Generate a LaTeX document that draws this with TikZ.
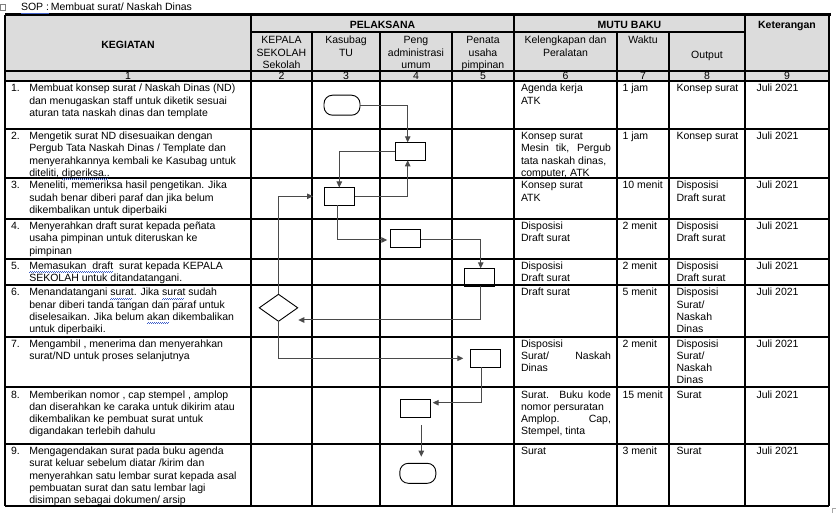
\documentclass[tikz,border=0pt]{standalone}
\usepackage{fontspec}
\setmainfont{Liberation Sans}
\usetikzlibrary{shapes.geometric,arrows.meta}
\definecolor{hdrgray}{HTML}{DCDCDC}
\definecolor{conngray}{HTML}{4A4A4A}
\definecolor{wavyblue}{HTML}{4060C8}
\newcommand\sopfont{\fontsize{10.5}{12.3}\selectfont}
\newsavebox\wvbox
\newcommand\wavyul[1]{\leavevmode\sbox\wvbox{#1}\rlap{\color{wavyblue}\leaders\hbox{\rule[-3.4pt]{1pt}{0.7pt}\rule[-2.6pt]{1pt}{0.7pt}}\hskip\wd\wvbox}\usebox\wvbox}
\newcommand\cellpar[2]{\parbox[t]{#1}{\raggedright #2}}
\newcommand\cellctr[2]{\parbox[t]{#1}{\centering #2}}
\tikzset{
  tl/.style={anchor=base west, inner sep=0pt, outer sep=0pt, font=\sopfont},
  tc/.style={anchor=base, inner sep=0pt, outer sep=0pt, font=\sopfont},
  hb/.style={anchor=base, inner sep=0pt, outer sep=0pt, font=\sopfont\bfseries},
  grid/.style={line width=1.1pt, black},
  flowbox/.style={draw, line width=0.9pt, minimum width=30.4pt, minimum height=18pt, inner sep=0pt, outer sep=0pt},
  term/.style={draw, line width=0.9pt, rounded corners=8.5pt, minimum width=36pt, minimum height=20pt, inner sep=0pt, outer sep=0pt},
  dec/.style={draw, diamond, line width=0.9pt, minimum width=38.4pt, minimum height=27pt, shape aspect=1.42, inner sep=0pt, outer sep=0pt},
  conn/.style={draw=conngray, line width=1pt, -{Triangle[length=6pt,width=5.5pt]}}
}
\begin{document}
\begin{tikzpicture}[x=1pt,y=-1pt]
\useasboundingbox (0,0) rectangle (836,513);
\fill[white] (0,0) rectangle (836,513);
% header fill
\fill[hdrgray] (5,16.5) rectangle (829,81);
% grid
\draw[grid] (251,32) -- (745,32);
\draw[grid] (5,71) -- (829,71);
\foreach \yy in {81,129,178,219,259,285,337,387,444,506} \draw[grid] (5,\yy) -- (829,\yy);
\draw[grid] (5,15) -- (5,506);
\draw[grid] (829,15) -- (829,506);
\foreach \xx in {251,514,745} \draw[grid] (\xx,16.5) -- (\xx,506);
\foreach \xx in {312,380,452,617,669} \draw[grid] (\xx,32) -- (\xx,506);
\draw[line width=3pt] (5,15) -- (831,15);
% small marks
\draw[gray, line width=0.6pt] (0.5,4) rectangle (5,10.5);
\draw[gray!70, line width=0.6pt] (832,513) -- (832,508.5) -- (836,508.5);
% title
\node[tl] (title) at (21,10.7) {\wavyul{SOP :}\,Membuat surat/ Naskah Dinas};
% headers
\node[hb] (hK) at (128,48.5) {KEGIATAN};
\node[hb] (hP) at (382.5,28.3) {PELAKSANA};
\node[hb] (hM) at (629.5,28.3) {MUTU BAKU};
\node[hb] (hKet) at (787,28.3) {Keterangan};
\node[tc] (s2) at (281.5,44) {\cellctr{60pt}{KEPALA\\SEKOLAH\\Sekolah}};
\node[tc] (s3) at (346,44) {\cellctr{66pt}{Kasubag\\TU}};
\node[tc] (s4) at (416,44) {\cellctr{70pt}{Peng\\administrasi\\umum}};
\node[tc] (s5) at (483,44) {\cellctr{60pt}{Penata\\usaha\\pimpinan}};
\node[tc] (s6) at (565.5,44) {\cellctr{100pt}{Kelengkapan dan\\Peralatan}};
\node[tc] (s7) at (643,44) {Waktu};
\node[tc] (s8) at (707,59) {Output};
% number row
\node[tc] (n1) at (128,79.5) {1};
\node[tc] (n2) at (281.5,79.5) {2};
\node[tc] (n3) at (346,79.5) {3};
\node[tc] (n4) at (416,79.5) {4};
\node[tc] (n5) at (483,79.5) {5};
\node[tc] (n6) at (565.5,79.5) {6};
\node[tc] (n7) at (643,79.5) {7};
\node[tc] (n8) at (707,79.5) {8};
\node[tc] (n9) at (787,79.5) {9};
% column 1
\node[tl] (k1n) at (11,92) {1.};
\node[tl] (k1) at (29.3,92) {\cellpar{240pt}{Membuat konsep surat / Naskah Dinas (ND)\\dan menugaskan staff untuk diketik sesuai\\aturan tata naskah dinas dan template}};
\node[tl] (k2n) at (11,139.5) {2.};
\node[tl] (k2) at (29.3,139.5) {\cellpar{240pt}{Mengetik surat ND disesuaikan dengan\\Pergub Tata Naskah Dinas / Template dan\\menyerahkannya kembali ke Kasubag untuk\\diteliti, \wavyul{diperiksa..}}};
\node[tl] (k3n) at (11,189) {3.};
\node[tl] (k3) at (29.3,189) {\cellpar{240pt}{Meneliti, memeriksa hasil pengetikan. Jika\\sudah benar diberi paraf dan jika belum\\dikembalikan untuk diperbaiki}};
\node[tl] (k4n) at (11,229.5) {4.};
\node[tl] (k4) at (29.3,229.5) {\cellpar{240pt}{Menyerahkan draft surat kepada peñata\\usaha pimpinan untuk diteruskan ke\\pimpinan}};
\node[tl] (k5n) at (11,269.5) {5.};
\node[tl] (k5) at (29.3,269.5) {\cellpar{240pt}{\wavyul{Memasukan\ \ draft}\ \ surat kepada KEPALA\\SEKOLAH untuk ditandatangani.}};
\node[tl] (k6n) at (11,296) {6.};
\node[tl] (k6) at (29.3,296) {\cellpar{240pt}{Menandatangani \wavyul{surat}. Jika \wavyul{surat} sudah\\benar diberi tanda tangan dan paraf untuk\\diselesaikan. Jika belum \wavyul{akan} dikembalikan\\untuk diperbaiki.}};
\node[tl] (k7n) at (11,347) {7.};
\node[tl] (k7) at (29.3,347) {\cellpar{240pt}{Mengambil , menerima dan menyerahkan\\surat/ND untuk proses selanjutnya}};
\node[tl] (k8n) at (11,398) {8.};
\node[tl] (k8) at (29.3,398) {\cellpar{240pt}{Memberikan nomor , cap stempel , amplop\\dan diserahkan ke caraka untuk dikirim atau\\dikembalikan ke pembuat surat untuk\\digandakan terlebih dahulu}};
\node[tl] (k9n) at (11,454.5) {9.};
\node[tl] (k9) at (29.3,454.5) {\cellpar{240pt}{Mengagendakan surat pada buku agenda\\surat keluar sebelum diatar /kirim dan\\menyerahkan satu lembar surat kepada asal\\pembuatan surat dan satu lembar lagi\\disimpan sebagai dokumen/ arsip}};
% column 6
\node[tl] (p1) at (521,92) {\cellpar{100pt}{Agenda kerja\\ATK}};
\node[tl] (p2) at (521,139.5) {\cellpar{100pt}{Konsep surat\\\makebox[90pt][s]{Mesin tik, Pergub}\\tata naskah dinas,\\computer, ATK}};
\node[tl] (p3) at (521,189) {\cellpar{100pt}{Konsep surat\\ATK}};
\node[tl] (p4) at (521,229.5) {\cellpar{100pt}{Disposisi\\Draft surat}};
\node[tl] (p5) at (521,269.5) {\cellpar{100pt}{Disposisi\\Draft surat}};
\node[tl] (p6) at (521,296) {Draft surat};
\node[tl] (p7) at (521,347) {\cellpar{100pt}{Disposisi\\\makebox[90pt][s]{Surat/ Naskah}\\Dinas}};
\node[tl] (p8) at (521,398) {\cellpar{100pt}{\makebox[90pt][s]{Surat. Buku kode}\\nomor persuratan\\\makebox[90pt][s]{Amplop. Cap,}\\Stempel, tinta}};
\node[tl] (p9) at (521,454.5) {Surat};
% column 7
\node[tl] (w1) at (622.5,92) {1 jam};
\node[tl] (w2) at (622.5,139.5) {1 jam};
\node[tl] (w3) at (622.5,189) {10 menit};
\node[tl] (w4) at (622.5,229.5) {2 menit};
\node[tl] (w5) at (622.5,269.5) {2 menit};
\node[tl] (w6) at (622.5,296) {5 menit};
\node[tl] (w7) at (622.5,347) {2 menit};
\node[tl] (w8) at (622.5,398) {15 menit};
\node[tl] (w9) at (622.5,454.5) {3 menit};
% column 8
\node[tl] (o1) at (676.5,92) {Konsep surat};
\node[tl] (o2) at (676.5,139.5) {Konsep surat};
\node[tl] (o3) at (676.5,189) {\cellpar{70pt}{Disposisi\\Draft surat}};
\node[tl] (o4) at (676.5,229.5) {\cellpar{70pt}{Disposisi\\Draft surat}};
\node[tl] (o5) at (676.5,269.5) {\cellpar{70pt}{Disposisi\\Draft surat}};
\node[tl] (o6) at (676.5,296) {\cellpar{70pt}{Disposisi\\Surat/\\Naskah\\Dinas}};
\node[tl] (o7) at (676.5,347) {\cellpar{70pt}{Disposisi\\Surat/\\Naskah\\Dinas}};
\node[tl] (o8) at (676.5,398) {Surat};
\node[tl] (o9) at (676.5,454.5) {Surat};
% column 9
\foreach \yy/\nm in {92/1,139.5/2,189/3,229.5/4,269.5/5,296/6,347/7,398/8,454.5/9}
  \node[tl] (ket\nm) at (756.5,\yy) {Juli 2021};
% flowchart shapes
\node[term] (t1) at (342,105.2) {};
\node[flowbox] (b2) at (410.5,151.3) {};
\node[flowbox] (b3) at (339.3,196.5) {};
\node[flowbox] (b4) at (405.5,238.5) {};
\node[flowbox] (b5) at (479.5,277.3) {};
\node[dec] (d6) at (278.5,307.8) {};
\node[flowbox] (b7) at (485.5,358.3) {};
\node[flowbox] (b8) at (415.3,408.3) {};
\node[term] (t9) at (417.8,473.3) {};
% free ends
\coordinate (r3) at (313,196.3);
\coordinate (r6) at (298.3,320);
\coordinate (i7) at (463.3,358.3);
\coordinate (i8) at (432.7,402.7);
\coordinate (o8c) at (421.3,425);
\coordinate (i9) at (421.3,456.7);
% connectors
\draw[conn] (t1.east) -| ([xshift=-2.8pt]b2.north);
\draw[conn] (b2.west) -| (b3.north);
\draw[conn] (b3.east) -| ([xshift=-2.8pt]b2.south);
\draw[conn] ([xshift=-1.5pt]b3.south) |- ([xshift=-3pt,yshift=-1.5pt]b4.west);
\draw[conn] ([yshift=-1.5pt]b4.east) -| ([xshift=1.2pt]b5.north);
\draw[conn] (d6.north) |- (r3);
\draw[conn] ([xshift=1.2pt]b5.south) |- (r6);
\draw[conn] (d6.south) |- (i7);
\draw[conn] ([xshift=-4.5pt]b7.south) |- (i8);
\draw[conn] (o8c) -- (i9);
\end{tikzpicture}
\end{document}
